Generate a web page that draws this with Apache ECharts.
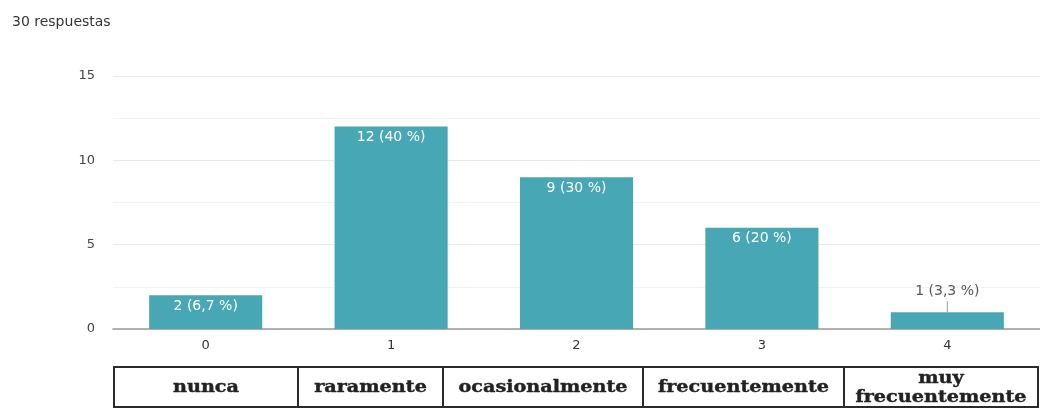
<!DOCTYPE html>
<html>
<head>
<meta charset="utf-8">
<script src="https://cdn.jsdelivr.net/npm/echarts@6/dist/echarts.min.js"></script>
<style>
  html, body { margin: 0; padding: 0; background: #fff; }
  #chart { width: 1040px; height: 410px; }
</style>
</head>
<body>
<div id="chart"></div>
<script>
// datos del gráfico
const categories = ['0', '1', '2', '3', '4']
const counts = [2, 12, 9, 6, 1]
const labels = ['2 (6,7 %)', '12 (40 %)', '9 (30 %)', '6 (20 %)', '1 (3,3 %)']
const tableNames = ['nunca', 'raramente', 'ocasionalmente', 'frecuentemente', 'muy\nfrecuentemente']
const tableEdges = [114, 298, 443, 643, 844, 1038] // bordes de las celdas

const chart = echarts.init(document.getElementById('chart'))

// tabla de nombres bajo el eje
const tableTop = 367, tableH = 40
const tableGraphics = []
tableNames.forEach((name, i) => {
  tableGraphics.push({
    type: 'rect',
    shape: { x: tableEdges[i], y: tableTop, width: tableEdges[i + 1] - tableEdges[i], height: tableH },
    style: { fill: '#fff', stroke: '#2a2a2a', lineWidth: 2 }
  })
  tableGraphics.push({
    type: 'text',
    x: (tableEdges[i] + tableEdges[i + 1]) / 2,
    y: tableTop + tableH / 2 + 1,
    scaleX: 1.2, // el texto original esta estirado
    style: {
      text: name,
      fill: '#222',
      stroke: '#222',
      lineWidth: 0.4,
      font: 'bold 16px "DejaVu Serif"',
      align: 'center',
      verticalAlign: 'middle',
      lineHeight: 19
    }
  })
})

const option = {
  animation: false,
  title: {
    text: '30 respuestas',
    left: 7,
    top: 10,
    textStyle: { fontSize: 14, fontWeight: 'normal', color: '#333', fontFamily: 'DejaVu Sans' }
  },
  grid: { left: 113, right: -2, top: 76, bottom: 81 },
  xAxis: {
    type: 'category',
    data: categories,
    axisTick: { show: false },
    axisLine: { lineStyle: { color: '#999', width: 1.5 } },
    axisLabel: { color: '#333', fontSize: 13, fontFamily: 'DejaVu Sans', margin: 10 }
  },
  yAxis: {
    type: 'value',
    min: 0,
    max: 15,
    interval: 5,
    axisLabel: { color: '#444', fontSize: 13, fontFamily: 'DejaVu Sans', margin: 18 },
    splitLine: { lineStyle: { color: '#e8e8e8' } },
    minorTick: { show: false, splitNumber: 2 },
    minorSplitLine: { show: true, lineStyle: { color: '#f2f2f2' } }
  },
  series: [{
    type: 'bar',
    barWidth: '61%',
    itemStyle: { color: '#48a7b5' },
    data: counts.map((v, i) => {
      if (i === 4) {
        return {
          value: v,
          label: { position: 'top', distance: 14, color: '#555' }
        }
      }
      return v
    }),
    label: {
      show: true,
      position: 'insideTop',
      distance: 4,
      color: '#fff',
      fontSize: 14,
      fontFamily: 'DejaVu Sans',
      formatter: p => labels[p.dataIndex]
    }
  }],
  graphic: tableGraphics
}

chart.setOption(option)

// línea guía para la etiqueta del último valor
const top4 = chart.convertToPixel({ seriesIndex: 0 }, [4, counts[4]])
chart.setOption({
  graphic: tableGraphics.concat([{
    type: 'line',
    shape: { x1: top4[0], y1: top4[1] - 11, x2: top4[0], y2: top4[1] },
    style: { stroke: '#999', lineWidth: 1 }
  }])
})
</script>
</body>
</html>
